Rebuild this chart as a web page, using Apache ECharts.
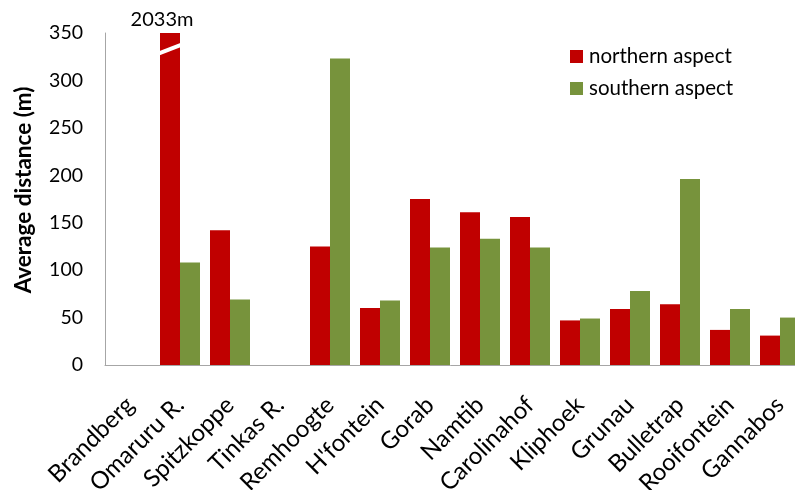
<!DOCTYPE html>
<html>
<head>
<meta charset="utf-8">
<script src="https://cdn.jsdelivr.net/npm/echarts@6/dist/echarts.min.js"></script>
<style>
  html, body { margin: 0; padding: 0; background: #fff; }
  #chart { width: 795px; height: 490px; }
</style>
</head>
<body>
<div id="chart"></div>
<script>
// Average distance per site, by slope aspect (m)
const sites = ['Brandberg', 'Omaruru R.', 'Spitzkoppe', 'Tinkas R.', 'Remhoogte', "H'fontein",
  'Gorab', 'Namtib', 'Carolinahof', 'Kliphoek', 'Grunau', 'Bulletrap', 'Rooifontein', 'Gannabos'];
const northern = [null, 2033, 142, null, 125, 60, 175, 161, 156, 47, 59, 64, 37, 31];
const southern = [null, 108, 69, null, 323, 68, 124, 133, 124, 49, 78, 196, 59, 50];
const yTicks = [0, 50, 100, 150, 200, 250, 300, 350];
const seriesNames = ['northern aspect', 'southern aspect'];

const FONT = 'Lato, "Open Sans", sans-serif';
const RED = '#C00000';
const GREEN = '#77933C';
const AXIS = '#A6A6A6';

const chart = echarts.init(document.getElementById('chart'), null, { renderer: 'canvas' });

const yMax = yTicks[yTicks.length - 1];

chart.setOption({
  animation: false,
  backgroundColor: '#fff',
  // plot area runs slightly past the right edge of the canvas
  grid: {
    left: 105, top: 33, width: 700, bottom: 125,
    containLabel: false,
    outerBoundsMode: 'none'
  },
  legend: {
    orient: 'vertical',
    left: 565,
    top: 41,
    itemWidth: 13,
    itemHeight: 13,
    itemGap: 11,
    icon: 'rect',
    textStyle: { fontFamily: FONT, fontSize: 20.5, color: '#000', padding: [0, 0, 0, 1] },
    data: seriesNames
  },
  xAxis: {
    type: 'category',
    data: sites,
    axisLine: { show: true, lineStyle: { color: AXIS, width: 1 } },
    axisTick: { show: false },
    axisLabel: {
      interval: 0,
      rotate: 45,
      margin: 36,
      fontFamily: FONT,
      fontSize: 24,
      color: '#000'
    }
  },
  yAxis: {
    type: 'value',
    min: yTicks[0],
    max: yMax,
    interval: yTicks[1] - yTicks[0],
    axisLine: { show: true, lineStyle: { color: AXIS, width: 1 } },
    axisTick: { show: false },
    splitLine: { show: false },
    axisLabel: { margin: 22, fontFamily: FONT, fontSize: 19.5, color: '#000' }
  },
  series: [
    {
      name: seriesNames[0],
      type: 'bar',
      data: northern,
      clip: true,
      barGap: '0%',
      barCategoryGap: '20%',
      itemStyle: { color: RED },
      markPoint: {
        symbol: 'rect',
        symbolSize: 0,
        data: [{ coord: [sites[1], yMax], value: northern[1] }],
        label: {
          show: true,
          position: 'inside',
          offset: [-8, -13],
          formatter: (p) => p.value + 'm',
          fontFamily: FONT,
          fontSize: 20,
          color: '#000'
        }
      }
    },
    {
      name: seriesNames[1],
      type: 'bar',
      data: southern,
      clip: true,
      barGap: '0%',
      barCategoryGap: '20%',
      itemStyle: { color: GREEN }
    }
  ]
});

// Broken-axis mark across the clipped Omaruru R. bar, plus the rotated axis title
function drawExtras() {
  const c0 = chart.convertToPixel({ gridIndex: 0 }, [0, 0]);
  const c1 = chart.convertToPixel({ gridIndex: 0 }, [1, 0]);
  const band = c1[0] - c0[0];
  const barW = band * 0.4;
  const left = chart.convertToPixel({ gridIndex: 0 }, [1, 329]);
  const right = chart.convertToPixel({ gridIndex: 0 }, [1, 337]);
  const x0 = left[0] - barW;
  const x1 = right[0];

  const top = chart.convertToPixel({ gridIndex: 0 }, [0, yMax]);
  const bottom = chart.convertToPixel({ gridIndex: 0 }, [0, 0]);
  chart.setOption({
    graphic: [
      {
        type: 'line',
        shape: { x1: x0 - 1, y1: left[1] + 0.4, x2: x1 + 1, y2: right[1] - 0.4 },
        style: { stroke: '#fff', lineWidth: 4 },
        z: 100
      },
      {
        type: 'text',
        x: 24,
        y: (top[1] + bottom[1]) / 2 - 9,
        rotation: Math.PI / 2,
        style: {
          text: 'Average distance (m)',
          fontFamily: FONT,
          fontWeight: 'bold',
          fontSize: 22.5,
          fill: '#000',
          align: 'center',
          verticalAlign: 'middle'
        }
      }
    ]
  });
}
drawExtras();
</script>
</body>
</html>
